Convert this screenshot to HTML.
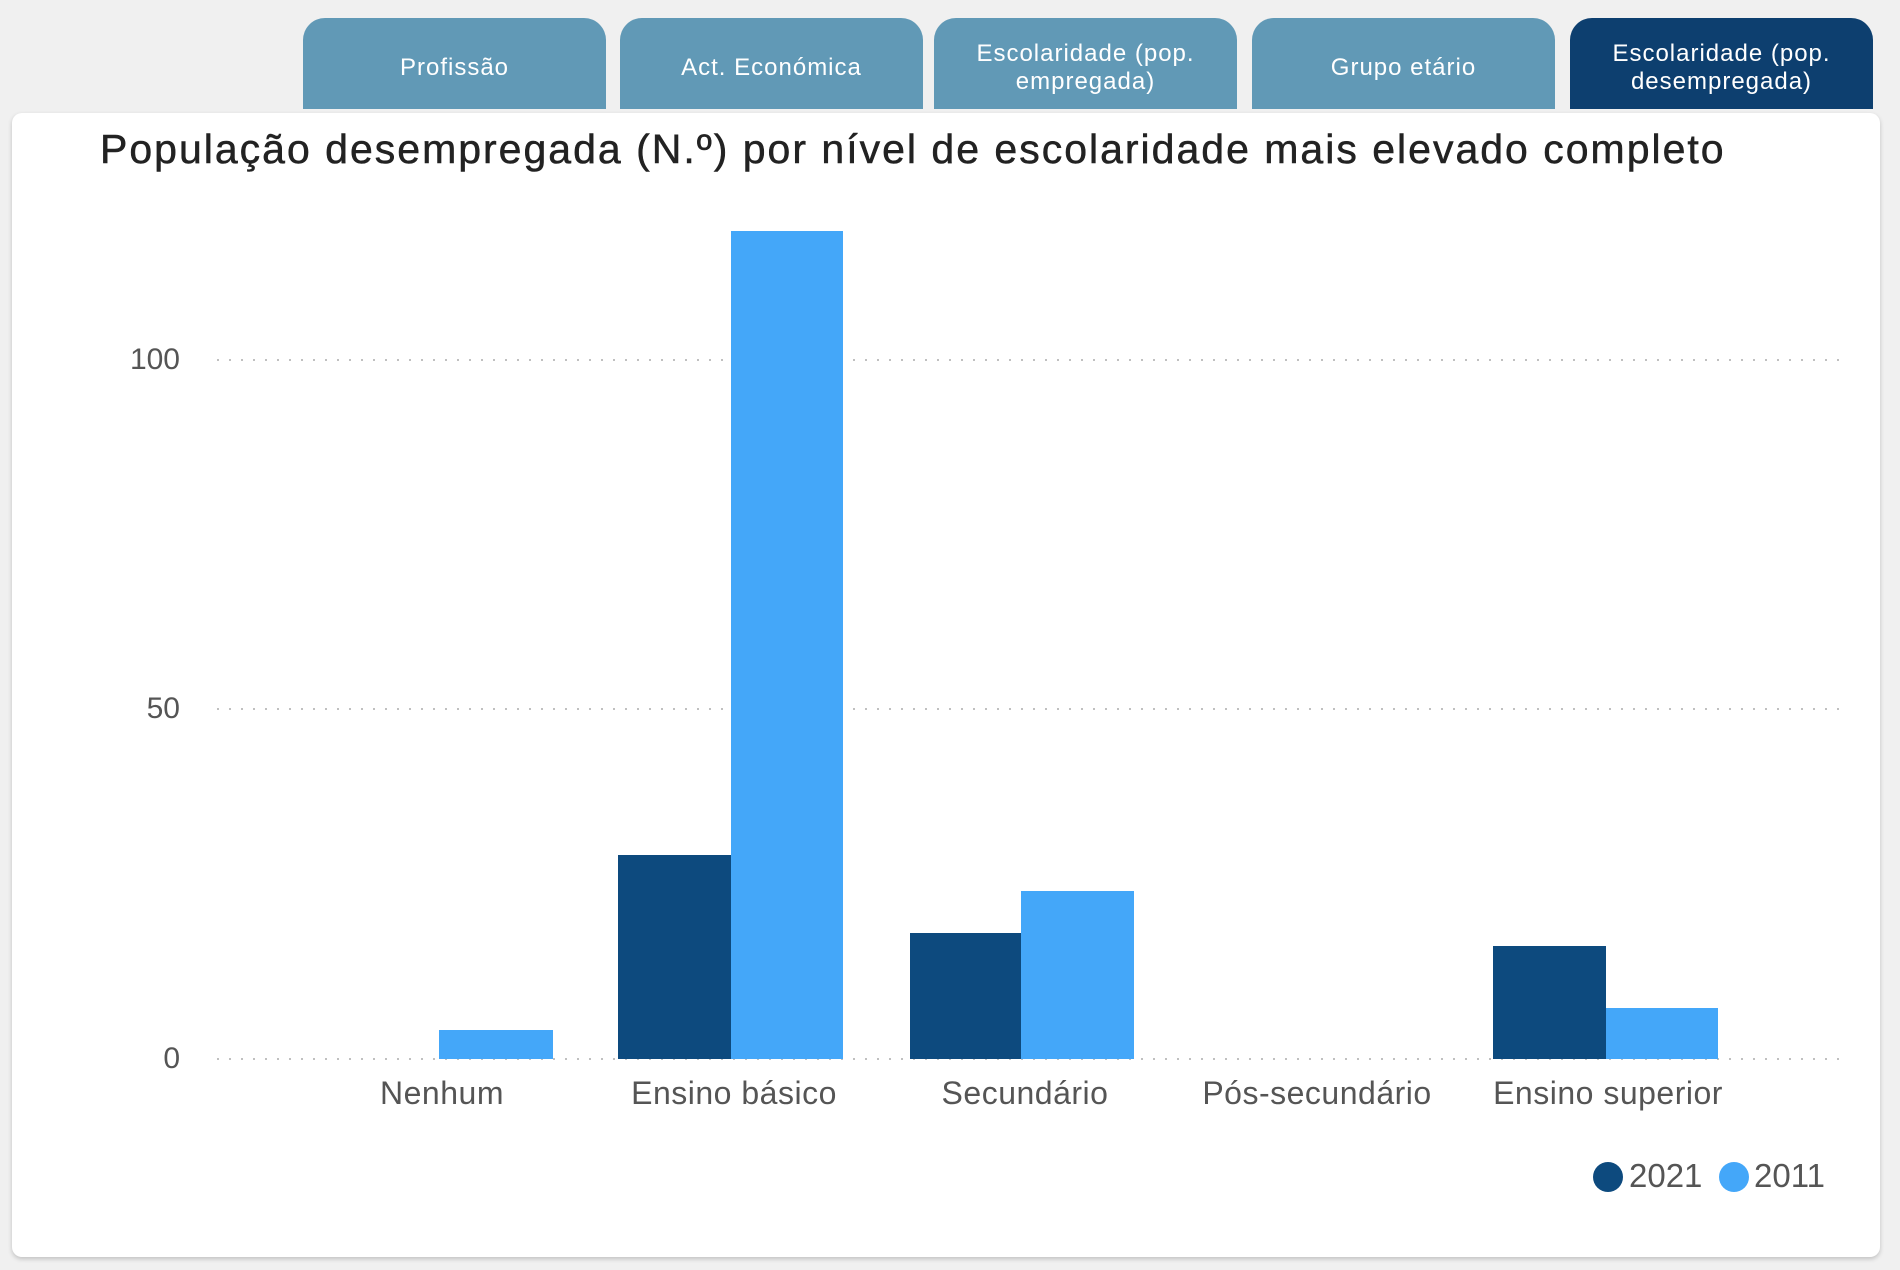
<!DOCTYPE html>
<html><head><meta charset="utf-8"><style>
body{margin:0;width:1900px;height:1270px;background:#f0f0f0;position:relative;overflow:hidden;font-family:"Liberation Sans",sans-serif}
.tab{position:absolute;top:18px;height:91px;width:303px;background:#6199b6;border-radius:22px 22px 0 0;color:#fff;font-size:24px;text-align:center;display:flex;align-items:center;justify-content:center;line-height:28px;padding-top:8px;box-sizing:border-box;letter-spacing:1px}
.card{position:absolute;left:12px;top:113px;width:1868px;height:1144px;background:#fff;border-radius:10px;box-shadow:0 2px 5px rgba(0,0,0,.2)}
.a{position:absolute}
.grid{position:absolute;left:212px;width:1630px;height:2px;background:radial-gradient(circle,#bbb 1px,transparent 1.2px) 0 0/12px 2px repeat-x}
.tick{position:absolute;width:80px;left:100px;text-align:right;font-size:30px;color:#555;transform:translateY(-50%)}
.bar{position:absolute}
.n{background:#0d4a7e}.l{background:#44a7f9}
.xl{position:absolute;top:1075px;font-size:32px;color:#555;transform:translateX(-50%);white-space:nowrap;letter-spacing:0.5px}
</style></head><body>
<div class="tab" style="left:303px">Profissão</div>
<div class="tab" style="left:620px">Act. Económica</div>
<div class="tab" style="left:934px">Escolaridade (pop.<br>empregada)</div>
<div class="tab" style="left:1252px">Grupo etário</div>
<div class="tab" style="left:1570px;background:#0d3f6f">Escolaridade (pop.<br>desempregada)</div>
<div class="card"></div>
<div class="a" style="left:100px;top:126px;font-size:41px;color:#222;white-space:nowrap;letter-spacing:2px;-webkit-text-stroke:0.5px #222">População desempregada (N.º) por nível de escolaridade mais elevado completo</div>
<div class="grid" style="top:359px"></div>
<div class="grid" style="top:708px"></div>
<div class="grid" style="top:1058px"></div>
<div class="tick" style="top:360px">100</div>
<div class="tick" style="top:709px">50</div>
<div class="tick" style="top:1059px">0</div>
<div class="bar l" style="left:439px;width:114px;top:1030px;height:29px"></div>
<div class="bar n" style="left:618px;width:113px;top:855px;height:204px"></div>
<div class="bar l" style="left:731px;width:112px;top:231px;height:828px"></div>
<div class="bar n" style="left:910px;width:111px;top:933px;height:126px"></div>
<div class="bar l" style="left:1021px;width:113px;top:891px;height:168px"></div>
<div class="bar n" style="left:1493px;width:113px;top:946px;height:113px"></div>
<div class="bar l" style="left:1606px;width:112px;top:1008px;height:51px"></div>
<div class="xl" style="left:442px">Nenhum</div>
<div class="xl" style="left:734px">Ensino básico</div>
<div class="xl" style="left:1025px">Secundário</div>
<div class="xl" style="left:1317px">Pós-secundário</div>
<div class="xl" style="left:1608px">Ensino superior</div>
<div class="a" style="left:1593px;top:1162px;width:30px;height:30px;border-radius:50%;background:#0d4a7e"></div>
<div class="a" style="left:1629px;top:1157px;font-size:33px;color:#555">2021</div>
<div class="a" style="left:1719px;top:1162px;width:30px;height:30px;border-radius:50%;background:#44a7f9"></div>
<div class="a" style="left:1754px;top:1157px;font-size:33px;color:#555">2011</div>
</body></html>
